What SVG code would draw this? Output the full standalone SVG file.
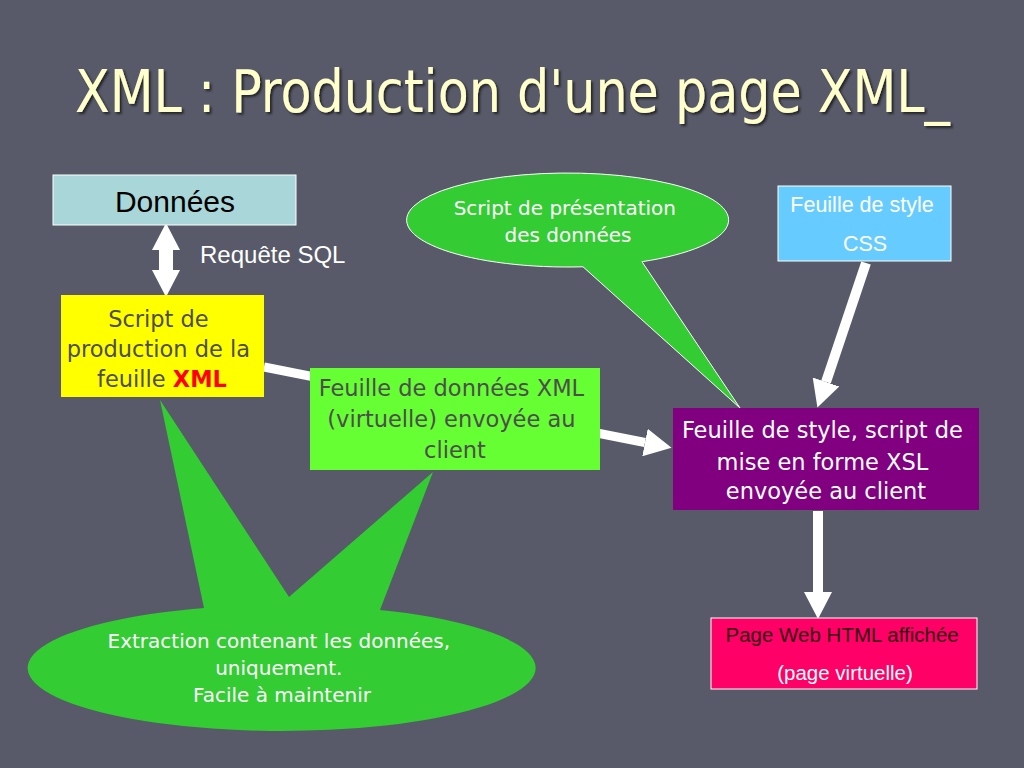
<svg xmlns="http://www.w3.org/2000/svg" width="1024" height="768" viewBox="0 0 1024 768">
<defs>
<style>
.tah{font-family:"DejaVu Sans","Liberation Sans",sans-serif;}
.tahc{font-family:"DejaVu Sans Condensed","DejaVu Sans","Liberation Sans",sans-serif;}
.ari{font-family:"Liberation Sans",Arial,sans-serif;}
.box{stroke:#ffffff;stroke-width:1;}
.conn{stroke:#ffffff;fill:none;}
</style>
<marker id="head" markerUnits="userSpaceOnUse" markerWidth="27" markerHeight="28" refX="0" refY="14" orient="auto-start-reverse" viewBox="0 0 27 28">
<path d="M0,0 L27,14 L0,28 Z" fill="#ffffff"/>
</marker>
<filter id="sh" x="-5%" y="-20%" width="110%" height="140%">
<feDropShadow dx="2" dy="2" stdDeviation="1" flood-color="#1a1a22" flood-opacity="0.9"/>
</filter>
</defs>
<rect width="1024" height="768" fill="#585a69"/>

<text x="75" y="112" class="tahc" font-size="59" fill="#ffffcc" textLength="875" lengthAdjust="spacingAndGlyphs" filter="url(#sh)">XML : Production d'une page XML_</text>

<g id="connectors">
<line class="conn" x1="166" y1="250" x2="166" y2="270" stroke-width="14" marker-start="url(#head)" marker-end="url(#head)"/>
<line class="conn" x1="264" y1="367" x2="645" y2="442.5" stroke-width="9" marker-end="url(#head)"/>
<line class="conn" x1="866" y1="263" x2="826" y2="382" stroke-width="10" marker-end="url(#head)"/>
<line class="conn" x1="818" y1="511" x2="818" y2="592" stroke-width="10" marker-end="url(#head)"/>
</g>

<g id="donnees">
<rect class="box" x="53" y="175" width="243" height="50" fill="#a9d6d9"/>
<text x="175" y="212" class="ari" font-size="30" fill="#000000" text-anchor="middle">Données</text>
</g>

<g id="requete-label">
<text x="200" y="263" class="ari" font-size="24" fill="#ffffff">Requête SQL</text>
</g>

<g id="script-production">
<rect x="61" y="295" width="203" height="102" fill="#ffff00"/>
<text class="tah" font-size="22.5" fill="#4d4d4d" text-anchor="middle">
<tspan x="162" y="327">Script de</tspan>
<tspan x="162" y="357">production de la</tspan>
<tspan x="162" y="387">feuille <tspan fill="#ff0000" font-weight="bold">XML</tspan></tspan>
</text>
</g>

<g id="callout-extraction">
<path d="M380 609.9 A254 63 0 1 1 204 608 L160 400 L289 597 L433 472 Z" fill="#33cc33"/>
<text class="tah" font-size="20" fill="#ffffff" text-anchor="middle">
<tspan x="282" y="648">Extraction contenant les données,</tspan>
<tspan x="282" y="675">uniquement.</tspan>
<tspan x="282" y="702">Facile à maintenir</tspan>
</text>
</g>

<g id="feuille-donnees">
<rect x="310" y="368" width="290" height="102" fill="#66ff33"/>
<text class="tah" font-size="22.5" fill="#4d4d4d" text-anchor="middle">
<tspan x="455" y="396">Feuille de données XML</tspan>
<tspan x="455" y="427">(virtuelle) envoyée au</tspan>
<tspan x="455" y="458">client</tspan>
</text>
</g>

<g id="callout-presentation">
<path d="M583 266.8 L740 408 L642 261.7 A161 47 0 1 0 583 266.8 Z" fill="#33cc33" stroke="#ffffff" stroke-width="1"/>
<text class="tah" font-size="20" fill="#ffffff" text-anchor="middle">
<tspan x="568" y="215">Script de présentation</tspan>
<tspan x="568" y="242">des données</tspan>
</text>
</g>

<g id="css">
<rect class="box" x="778" y="186" width="173" height="75" fill="#66ccff"/>
<text class="ari" font-size="21.5" fill="#ffffff" text-anchor="middle">
<tspan x="865" y="212">Feuille de style</tspan>
<tspan x="865" y="251">CSS</tspan>
</text>
</g>

<g id="xsl">
<rect x="673" y="408" width="306" height="102" fill="#800080"/>
<text class="tah" font-size="22.5" fill="#ffffff" text-anchor="middle">
<tspan x="826" y="438">Feuille de style, script de</tspan>
<tspan x="826" y="470">mise en forme XSL</tspan>
<tspan x="826" y="499">envoyée au client</tspan>
</text>
</g>

<g id="page-web">
<rect class="box" x="711" y="618" width="266" height="71" fill="#ff0066"/>
<text class="ari" font-size="20.5" text-anchor="middle">
<tspan x="845" y="642" fill="#330011">Page Web HTML affichée</tspan>
<tspan x="845" y="680" fill="#ffffff">(page virtuelle)</tspan>
</text>
</g>
</svg>
